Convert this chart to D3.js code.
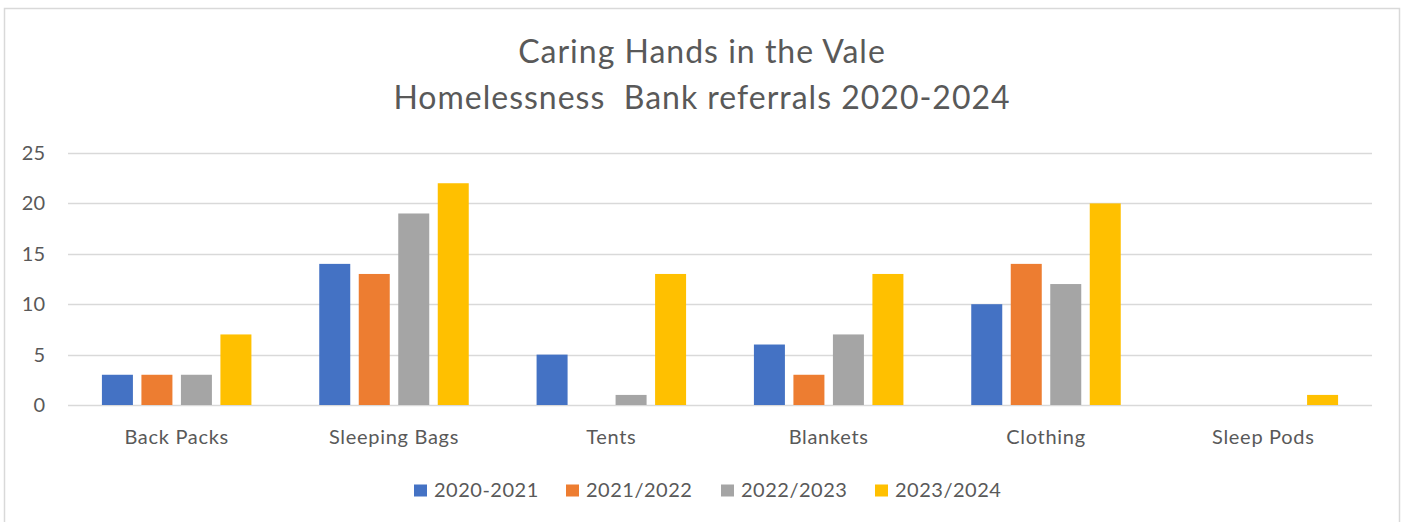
<!DOCTYPE html>
<html><head><meta charset="utf-8">
<script src="https://cdn.jsdelivr.net/npm/d3@7"></script>
<style>body{margin:0;background:#fff}svg{display:block}text{font-family:Lato,"Open Sans",sans-serif;fill:#595959;white-space:pre}</style>
</head><body>
<svg id="c" width="1403" height="522"></svg>
<script>
const categories = ["Back Packs","Sleeping Bags","Tents","Blankets","Clothing","Sleep Pods"];
const seriesNames = ["2020-2021","2021/2022","2022/2023","2023/2024"];
const s2020 = [3,14,5,6,10,0];
const s2021 = [3,13,0,3,14,0];
const s2022 = [3,19,1,7,12,0];
const s2023 = [7,22,13,13,20,1];
const yTicks = [0,5,10,15,20,25];
const titleLines = ["Caring Hands in the Vale","Homelessness  Bank referrals 2020-2024"];
const colors = ["#4472C4","#ED7D31","#A5A5A5","#FFC000"];

(function(){
const seriesVals = [s2020,s2021,s2022,s2023];
const svg = d3.select("#c");
svg.append("rect").attr("x",4.5).attr("y",8.5).attr("width",1395).attr("height",530)
  .attr("fill","#fff").attr("stroke","#d9d9d9").attr("stroke-width",1.5);

const pL=68,pR=1372,pT=153,pB=405;
const x = d3.scaleBand().domain(categories).range([pL,pR]).paddingInner(0).paddingOuter(0);
const y = d3.scaleLinear().domain([0,25]).range([pB,pT]);
const bw = 31, step = 39.5;
const groupW = 3*step + bw;
const xs = d3.scaleBand().domain(seriesNames).range([0,groupW]).paddingInner(1-bw/step).paddingOuter(0);

svg.append("g").selectAll("line").data(yTicks).join("line")
  .attr("x1",pL).attr("x2",pR).attr("y1",d=>Math.round(y(d))+0.5).attr("y2",d=>Math.round(y(d))+0.5)
  .attr("stroke","#d9d9d9").attr("stroke-width",1.3);
svg.append("g").selectAll("text").data(yTicks).join("text")
  .attr("x",45).attr("y",d=>y(d)+7).attr("text-anchor","end").attr("font-size",20).text(d=>d);

seriesVals.forEach((vals,si)=>{
  svg.append("g").selectAll("rect").data(vals).join("rect")
    .attr("x",(d,i)=>x(categories[i])+x.bandwidth()/2-groupW/2+xs(seriesNames[si]))
    .attr("width",xs.bandwidth())
    .attr("y",d=>y(d)).attr("height",d=>y(0)-y(d))
    .attr("fill",colors[si]);
});

svg.append("g").selectAll("text").data(categories).join("text")
  .attr("x",d=>x(d)+x.bandwidth()/2).attr("y",444).attr("text-anchor","middle")
  .attr("font-size",20).attr("letter-spacing",0.7).text(d=>d);

svg.append("g").selectAll("text").data(titleLines).join("text")
  .attr("x",702).attr("y",(d,i)=>63+i*46).attr("text-anchor","middle").attr("font-size",32)
  .attr("letter-spacing",1).text(d=>d);

const legX=[414,566,721,875];
const lg = svg.append("g").selectAll("g").data(seriesNames).join("g")
  .attr("transform",(d,i)=>`translate(${legX[i]},0)`);
lg.append("rect").attr("x",0).attr("y",484.5).attr("width",13).attr("height",12).attr("fill",(d,i)=>colors[i]);
lg.append("text").attr("x",20).attr("y",497).attr("font-size",20).attr("letter-spacing",0.5).text(d=>d);
})();
</script>
</body></html>
